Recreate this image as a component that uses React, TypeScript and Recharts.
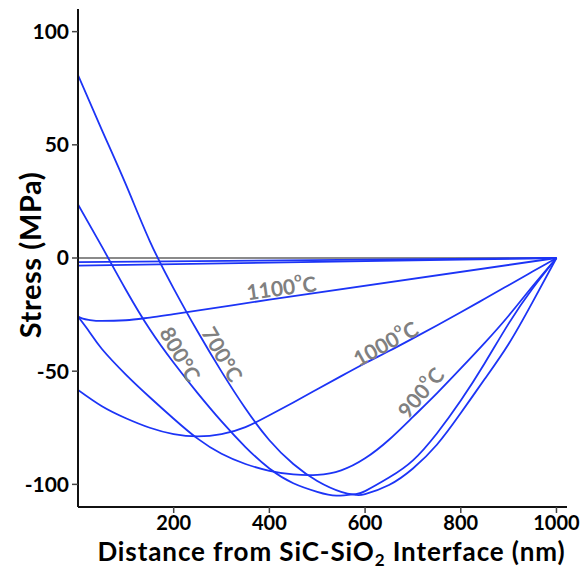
import React from "react";
import {
  LineChart,
  Line,
  XAxis,
  YAxis,
  ReferenceDot,
  Label,
} from "recharts";

// Stress profiles vs distance from the SiC-SiO2 interface, one per anneal temperature.
const dist700 = [0, 50, 100, 150, 200, 250, 300, 350, 400, 450, 500, 550, 580, 600, 650, 700, 750, 800, 850, 900, 950, 1000];
const stress700 = [80.8, 56.5, 32.5, 7.5, -13.5, -32.5, -50.2, -66.5, -80.5, -91, -98.5, -103.3, -104.6, -104.3, -100.3, -93, -82.5, -68.5, -53.5, -38, -19.5, 0];

const dist800 = [0, 50, 100, 150, 200, 250, 300, 350, 400, 450, 500, 540, 580, 600, 650, 700, 750, 800, 850, 900, 950, 1000];
const stress800 = [23.7, 5, -14, -31.5, -46.3, -59.7, -72.2, -83.5, -93, -99.5, -103.3, -105, -104.3, -103, -97, -89.4, -77.5, -63, -46.5, -29, -13.5, 0];

const dist900 = [0, 25, 50, 100, 150, 200, 250, 300, 350, 400, 450, 500, 550, 600, 650, 700, 750, 800, 850, 900, 950, 1000];
const stress900 = [-25.9, -33, -40.2, -51.5, -61.5, -71, -79.8, -86.5, -91, -94, -95.6, -95.8, -93.8, -88.5, -80.3, -70.2, -59.8, -48.8, -37.5, -25.5, -12.5, 0];

const dist1000 = [0, 50, 100, 150, 200, 250, 300, 350, 400, 450, 500, 550, 600, 650, 700, 750, 800, 850, 900, 950, 1000];
const stress1000 = [-58.3, -65.5, -70.8, -75, -77.8, -78.8, -77.8, -74.7, -69.5, -63.8, -58, -52.2, -46.5, -41.1, -35.5, -29.8, -24, -18, -12, -6, 0];

const dist1100 = [0, 10, 25, 50, 100, 150, 200, 400, 1000];
const stress1100 = [-25.9, -26.8, -27.4, -27.8, -27.5, -26.3, -24.8, -18.4, 0];

// the two nearly flat profiles just under zero, plus the grey zero reference
const distFlat = [0, 1000];
const stressFlatA = [-1.8, 0];
const stressFlatB = [-3.4, 0];
const stressZero = [0, 0];

const xTicks = [200, 400, 600, 800, 1000];
const yTicks = [-100, -50, 0, 50, 100];

// curve labels: text, anchor (nm, MPa), rotation
const labelNames = ["1100", "1000", "900", "800", "700"];
const labelDist = [425, 642, 715, 215, 303];
const labelStress = [-12.8, -37.5, -59.2, -42.4, -42.4];
const labelAngle = [-8, -29, -50, 60, 60];

const zip = (xs: number[], ys: number[]) => xs.map((x, i) => ({ x, y: ys[i] }));

const BLUE = "#1c34f6";
const GREY = "#808080";
const FONT = "Lato, 'Open Sans', sans-serif";

const series = [
  { key: "zero", data: zip(distFlat, stressZero), color: "#8a8a8a", curve: "linear" },
  { key: "flatA", data: zip(distFlat, stressFlatA), color: BLUE, curve: "linear" },
  { key: "flatB", data: zip(distFlat, stressFlatB), color: BLUE, curve: "linear" },
  { key: "t1100", data: zip(dist1100, stress1100), color: BLUE, curve: "monotone" },
  { key: "t1000", data: zip(dist1000, stress1000), color: BLUE, curve: "natural" },
  { key: "t900", data: zip(dist900, stress900), color: BLUE, curve: "natural" },
  { key: "t800", data: zip(dist800, stress800), color: BLUE, curve: "natural" },
  { key: "t700", data: zip(dist700, stress700), color: BLUE, curve: "natural" },
];

function CurveLabel({ cx, cy, name, angle }: { cx: number; cy: number; name: string; angle: number }) {
  const steep = Math.abs(angle) > 55;
  return (
    <text
      x={cx}
      y={cy}
      transform={`rotate(${angle} ${cx} ${cy})`}
      textAnchor="middle"
      dominantBaseline="central"
      fill={GREY}
      fontSize={21}
      fontWeight={700}
      fontFamily={FONT}
    >
      {name}
      {steep ? (
        "°C"
      ) : (
        <>
          <tspan dy={-8} fontSize={13}>o</tspan>
          <tspan dy={8}>C</tspan>
        </>
      )}
    </text>
  );
}

export default function App() {
  return (
    <div style={{ position: "absolute", left: 0, top: 0, width: 584, height: 570, background: "#fff" }}>
      <LineChart
        width={584}
        height={570}
        margin={{ top: 9, right: 17, bottom: 8, left: 8 }}
      >
        <XAxis
          type="number"
          dataKey="x"
          domain={[0, 1022]}
          ticks={xTicks}
          allowDataOverflow
          height={55}
          axisLine={{ stroke: "#111", strokeWidth: 2 }}
          tickLine={{ stroke: "#444", strokeWidth: 1.5 }}
          tickSize={6}
          tickMargin={3}
          tick={{ fill: "#000", fontSize: 20, fontWeight: 700, fontFamily: FONT }}
        >
          <Label
            content={({ viewBox }: any) => {
              const cx = viewBox.x + viewBox.width / 2 + 9;
              const y = viewBox.y + 54;
              return (
                <text x={cx} y={y} textAnchor="middle" fontSize={26} fontWeight={700} fontFamily={FONT} fill="#000" letterSpacing={0.9}>
                  Distance from SiC-SiO
                  <tspan dy={5} fontSize={17}>2</tspan>
                  <tspan dy={-5}> Interface (nm)</tspan>
                </text>
              );
            }}
          />
        </XAxis>
        <YAxis
          type="number"
          domain={[-110, 110]}
          ticks={yTicks}
          allowDataOverflow
          width={70}
          axisLine={{ stroke: "#111", strokeWidth: 2 }}
          tickLine={{ stroke: "#444", strokeWidth: 1.5 }}
          tickSize={6}
          tickMargin={3}
          tick={{ fill: "#000", fontSize: 21, fontWeight: 700, fontFamily: FONT }}
        >
          <Label
            content={({ viewBox }: any) => {
              const cy = viewBox.y + viewBox.height / 2 - 3;
              const x = 29;
              return (
                <text
                  x={x}
                  y={cy}
                  transform={`rotate(-90 ${x} ${cy})`}
                  textAnchor="middle"
                  dominantBaseline="central"
                  fontSize={29}
                  fontWeight={700}
                  fontFamily={FONT}
                  letterSpacing={0.6}
                  fill="#000"
                >
                  Stress (MPa)
                </text>
              );
            }}
          />
        </YAxis>
        {series.map((s) => (
          <Line
            key={s.key}
            data={s.data}
            dataKey="y"
            type={s.curve as any}
            stroke={s.color}
            strokeWidth={1.8}
            dot={false}
            activeDot={false}
            isAnimationActive={false}
          />
        ))}
        {labelNames.map((name, i) => (
          <ReferenceDot
            key={name}
            x={labelDist[i]}
            y={labelStress[i]}
            r={0}
            ifOverflow="visible"
            shape={(p: any) => <CurveLabel cx={p.cx} cy={p.cy} name={name} angle={labelAngle[i]} />}
          />
        ))}
      </LineChart>
    </div>
  );
}
